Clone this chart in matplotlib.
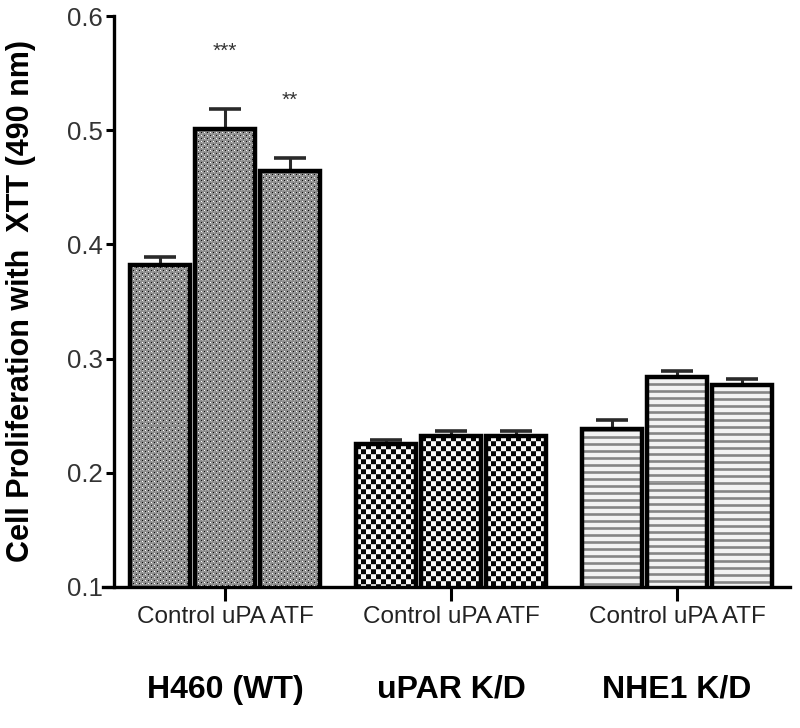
import numpy as np
import matplotlib
matplotlib.use("Agg")
import matplotlib.pyplot as plt
from matplotlib.transforms import blended_transform_factory

# ---- data ----
groups = ["H460 (WT)", "uPAR K/D", "NHE1 K/D"]
treatments = ["Control", "uPA", "ATF"]
values = {
    "H460 (WT)": [0.382, 0.501, 0.464],
    "uPAR K/D": [0.225, 0.232, 0.232],
    "NHE1 K/D": [0.238, 0.284, 0.277],
}
errors = {
    "H460 (WT)": [0.007, 0.018, 0.012],
    "uPAR K/D": [0.004, 0.005, 0.005],
    "NHE1 K/D": [0.008, 0.005, 0.005],
}
significance = {("H460 (WT)", "uPA"): "***", ("H460 (WT)", "ATF"): "**"}
yticks = [0.1, 0.2, 0.3, 0.4, 0.5, 0.6]
ylabel = "Cell Proliferation with  XTT (490 nm)"

plt.rcParams["font.family"] = ["Liberation Sans", "DejaVu Sans"]

fig = plt.figure(figsize=(8, 7.28), dpi=100)
W, H = 800, 728
ax = fig.add_axes([103 / W, 1 - 587 / H, (790 - 103) / W, (587 - 16) / H])
ax.set_xlim(-0.54, 2.5)
ax.set_ylim(0.1, 0.6)

offsets = [-0.288, 0.0, 0.288]
bw = 0.265


def pattern(kind, h, w):
    yy, xx = np.mgrid[0:h, 0:w]
    if kind == 0:
        img = np.full((h, w), 0.55)
        a = (yy % 6 == 0) & (xx % 6 == 0)
        b = (yy % 6 == 0) & (xx % 6 == 3)
        c = (yy % 6 == 3) & (xx % 6 == 0)
        d = (yy % 6 == 3) & (xx % 6 == 3)
        img[a | d] = 1.0
        img[b | c] = 0.05
        img[(yy % 3 == 1) & (xx % 3 == 1)] = 0.68
    elif kind == 1:
        img = (((yy // 5) + (xx // 5)) % 2).astype(float)
        img = np.where(img > 0.5, 0.97, 0.02)
        img[(yy % 5 == 0)] = np.clip(img[(yy % 5 == 0)] * 0.6 + 0.2, 0, 1)
    else:
        r = yy % 7
        img = np.full((h, w), 0.95)
        img[r <= 2] = 0.6
        img[r == 1] = 0.52
    return img


for gi, g in enumerate(groups):
    xs = [gi + o for o in offsets]
    bars = ax.bar(xs, values[g], width=bw, bottom=0, facecolor="none",
                  edgecolor="black", linewidth=3.2, zorder=4)
    for rect in bars:
        x0 = rect.get_x()
        x1 = x0 + rect.get_width()
        y1 = rect.get_height()
        p0 = ax.transData.transform((x0, 0.1))
        p1 = ax.transData.transform((x1, y1))
        wpx = max(int(round(p1[0] - p0[0])), 1)
        hpx = max(int(round(p1[1] - p0[1])), 1)
        img = pattern(gi, hpx, wpx)
        im = ax.imshow(img, cmap="gray", vmin=0, vmax=1, extent=(x0, x1, 0.1, y1),
                       origin="upper", interpolation="none", aspect="auto", zorder=2)
        im.set_clip_path(rect)
    tops = np.array(values[g]) + np.array(errors[g])
    ax.vlines(xs, values[g], tops, color="#2a2a2a", linewidth=2.2, zorder=3)
    ax.hlines(tops, np.array(xs) - 0.07, np.array(xs) + 0.07, color="#2a2a2a",
              linewidth=2.6, zorder=3)
    for ti, t in enumerate(treatments):
        s = significance.get((g, t))
        if s:
            ax.text(xs[ti], tops[ti] + 0.05, s, ha="center", va="center",
                    fontsize=15, color="#333333")

ax.set_aspect("auto")
ax.set_xlim(-0.54, 2.5)
ax.set_ylim(0.1, 0.6)

for s in ["top", "right"]:
    ax.spines[s].set_visible(False)
ax.spines["left"].set_position(("data", -0.49))
ax.spines["left"].set_linewidth(2.4)
ax.spines["bottom"].set_linewidth(2.4)

ax.set_yticks(yticks)
ax.set_yticklabels([f"{v:.1f}" for v in yticks])
ax.tick_params(axis="y", direction="out", length=6, width=2.2, labelsize=18.5, pad=2,
               colors="black", labelcolor="#333333")
ax.set_xticks(range(len(groups)))
ax.set_xticklabels([""] * len(groups))
ax.tick_params(axis="x", direction="out", length=10, width=2.2)

ax.set_ylabel(ylabel, fontsize=22, fontweight="bold")
ax.yaxis.set_label_coords(-0.098, 0.5)

tr = blended_transform_factory(ax.transData, fig.transFigure)
for gi, g in enumerate(groups):
    ax.text(gi, 1 - 617 / H, " ".join(treatments), transform=tr,
            ha="center", va="center", fontsize=17.5, color="#222222")
    ax.text(gi, 1 - 690 / H, g, transform=tr, ha="center", va="center",
            fontsize=23, fontweight="bold")

fig.savefig("out.png", dpi=100)
